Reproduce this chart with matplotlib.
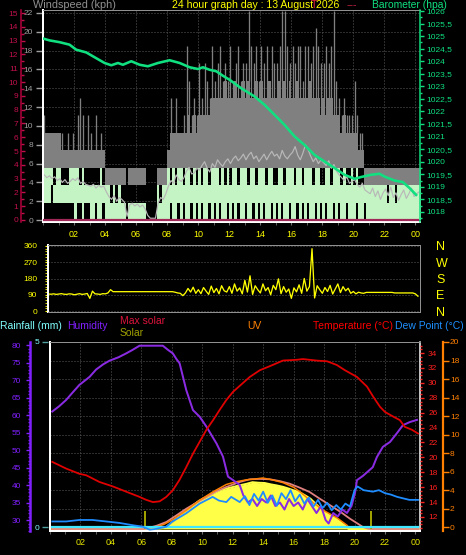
import numpy as np
import matplotlib
matplotlib.use('Agg')
import matplotlib.pyplot as plt
from matplotlib.ticker import MultipleLocator, FuncFormatter, FixedLocator

plt.rcParams['font.family'] = ['Liberation Sans', 'DejaVu Sans']

# ------------------------------------------------------------------ data
KNOT = 1.852                      # kph per knot
BIN_H = 1 / 6                     # 10-minute bins (hours)

# gusts / wind speed per 10-minute bin, in knots
gust_hi_kn = [6,5,5,5,5,5, 5,5,4,5,4,5, 4,6,7,6,4,6, 5,4,6,4,5,4,
              3,3,3,3,3,3, 3,3,0,3,3,3, 3,3,3,3,0,0, 0,0,3,3,3,3,
              4,7,5,7,5,5, 6,10,8,6,7,6, 9,7,9,8,7,10, 8,9,10,8,9,8,
              10,8,9,10,8,9, 9,12,10,9,10,8, 10,9,10,8,10,9, 9,10,12,12,10,9,
              10,9,10,10,8,10, 10,9,10,11,10,9, 9,10,9,10,12,8, 7,6,7,6,6,6,
              8,6,5,5,3,3, 3,3,3,3,3,3, 3,3,3,3,3,3, 3,3,3,3,3,3, 3,3]
gust_core_kn = [5,5,5,5,5,5, 5,4,4,4,4,4, 4,4,4,4,4,4, 4,4,4,4,4,4,
                3,3,3,3,3,3, 3,3,0,3,3,3, 3,3,3,3,0,0, 0,0,3,3,3,3,
                4,5,5,5,5,5, 5,5,6,5,6,5, 6,6,6,6,6,7, 7,7,7,7,8,7,
                7,7,8,7,7,8, 7,8,7,7,8,7, 8,7,7,8,7,7, 7,8,7,8,7,8,
                7,7,8,7,7,7, 7,8,7,7,7,6, 7,6,7,7,6,6, 6,5,6,5,5,5,
                5,5,4,4,3,3, 3,3,3,3,3,3, 3,3,3,3,3,3, 3,3,3,3,3,3, 3,3]
gust_lo_kn = [3,3,3,3,3,3, 3,3,3,3,3,3, 3,3,3,3,3,3, 3,3,3,3,3,3,
              2,2,2,2,2,2, 2,2,0,2,2,2, 2,2,2,2,0,0, 0,0,2,2,2,2,
              3,3,3,3,3,3, 3,3,3,3,3,3, 3,3,3,3,3,3, 3,3,3,3,3,3,
              3,3,3,3,3,3, 3,3,3,3,3,3, 3,3,3,3,3,3, 3,3,3,3,3,3,
              3,3,3,3,3,3, 3,3,3,3,3,3, 3,3,3,3,3,3, 3,3,3,3,3,3,
              3,3,3,3,2,2, 2,2,2,2,2,2, 2,2,2,2,2,2, 2,2,2,2,2,2, 2,2]
speed_hi_kn = [3,3,3,3,2,3, 3,2,2,2,3,3, 3,3,2,3,2,2, 2,2,2,2,3,2,
               2,2,1,2,1,2, 1,1,0,1,1,1, 1,1,1,1,0,0, 0,0,2,1,2,2,
               3,2,3,2,3,3, 2,3,3,2,3,2, 3,2,3,3,2,3, 3,3,2,3,2,3,
               2,3,3,2,3,3, 3,2,3,3,2,3, 3,3,2,3,3,2, 2,3,3,2,3,3,
               3,2,3,3,2,3, 3,3,2,3,3,2, 2,3,3,2,3,3, 3,2,3,2,2,3,
               2,3,2,2,2,2, 2,2,2,2,2,2, 2,1,2,2,1,2, 2,2,2,2,2,2, 2,2]
speed_lo_kn = [1,1,1,2,1,1, 1,1,1,1,1,1, 0,1,1,0,1,1, 0,0,1,0,0,1,
               0,0,0,0,0,0, 0,0,0,0,0,0, 0,0,0,0,0,0, 0,0,0,0,0,0,
               0,1,0,0,1,0, 1,0,0,1,0,1, 0,1,0,0,1,0, 1,0,1,0,0,1,
               0,1,0,1,0,0, 1,0,0,1,0,1, 0,1,0,0,1,0, 1,0,1,0,0,1,
               0,0,1,0,1,0, 1,0,0,1,0,1, 0,1,0,0,1,0, 1,0,0,1,0,0,
               0,1,0,0,1,0, 0,0,0,0,0,0, 0,0,0,0,0,0, 0,0,0,0,0,0, 0,0]
wind_avg_kph = [4.8,4.5,4.7,4.4,4.6,4.2, 4.4,4.0,4.3,3.9,4.1,4.4,
                4.2,4.5,3.9,4.1,3.8,3.7, 3.6,3.8,3.4,3.7,3.5,3.6,
                3.0,2.5,2.2,2.6,2.0,2.4, 2.2,1.9,0.4,1.6,1.8,1.5,
                1.7,1.4,1.6,1.2,0.5,0.2, 0.2,0.2,1.8,2.4,2.2,2.8,
                3.6,4.2,3.9,4.8,4.3,4.1, 4.5,5.2,5.6,4.9,5.0,5.5,
                5.3,5.8,6.2,5.5,5.1,6.0, 5.6,6.4,6.0,5.7,6.2,6.5,
                6.0,6.5,6.8,6.3,6.6,7.0, 6.4,6.9,7.2,6.5,6.8,6.2,
                6.6,7.0,6.4,6.9,7.3,6.8, 7.0,6.5,7.4,6.8,6.5,6.9,
                7.2,7.8,6.9,6.4,7.1,8.0, 7.5,6.8,6.2,6.6,6.0,6.4,
                6.1,5.8,6.3,5.5,5.9,5.2, 4.8,4.5,4.2,4.6,3.9,4.1,
                4.3,3.8,3.5,3.9,3.2,3.0, 2.8,3.4,2.5,3.1,2.2,2.9,
                3.3,2.6,3.5,2.4,2.9,2.1, 2.7,3.2,2.3,2.8,3.4,2.5, 2.8,3.0]
rain_rate = [0.0] * 146

baro_h = [0.03,0.42,1.06,1.71,2.14,2.79,3.21,3.97,4.4,4.83,5.15,5.69,6.23,6.76,
          7.41,8.16,8.81,9.45,9.99,10.31,10.74,11.17,11.6,12.03,12.76,13.63,
          14.27,14.92,15.56,16.21,16.85,17.5,18.14,18.79,19.43,20.08,20.5,
          21.15,21.69,22.01,22.66,23.19,23.63,24.05]
baro_hpa = [1024.90,1024.83,1024.76,1024.66,1024.46,1024.35,1024.20,1023.93,
            1023.84,1023.93,1023.86,1024.00,1023.86,1023.80,1023.93,1024.04,
            1023.93,1023.76,1023.69,1023.76,1023.66,1023.60,1023.42,1023.26,
            1022.93,1022.60,1022.27,1021.87,1021.47,1021.01,1020.67,1020.27,
            1020.01,1019.75,1019.48,1019.32,1019.39,1019.48,1019.52,1019.41,
            1019.25,1019.19,1018.95,1018.68]

wind_dir = [88,92,94,93,95,92, 94,96,93,92,95,94, 90,93,96,92,94,97,
            70,110,95,94,92,96, 95,100,118,107,107,107,
            107,107,107,107,107,107, 107,107,107,107,107,107,
            107,107,107,107,107,107, 107,107,107,104,100,98,
            85,100,125,105,132,98, 118,96,130,110,92,138,
            102,125,95,140,112,105, 135,98,150,110,128,95,
            170,105,195,92,140,118, 100,150,112,130,90,142,
            118,178,96,135,104,122, 70,128,106,145,98,180,
            110,135,345,72,140,118, 98,130,108,142,94,122,
            150,102,135,112,126,98, 108,95,104,100,98,103,
            103,103,103,103,103,103, 103,103,103,103,100,100,
            100,100,100,100,100,100, 95,82]
compass_labels = ['N', 'W', 'S', 'E', 'N']
compass_deg = [360, 270, 180, 90, 0]

temp_h = [0.15,1.06,1.93,2.38,3.25,4.13,5.0,5.88,6.32,6.76,7.2,7.64,8.07,8.51,
          8.95,9.39,9.83,10.27,10.71,11.15,11.58,12.02,12.46,13.12,13.78,14.5,
          15.3,16.2,16.6,17.5,18.2,18.84,19.37,20.16,20.82,21.21,21.67,22.0,
          22.52,22.98,23.3,23.78,24.17]
temp_c = [19.4,18.5,17.8,17.6,16.7,16.1,15.4,14.7,14.3,14.0,14.1,14.7,15.6,17.0,
          18.7,20.5,22.1,23.7,25.0,26.4,27.7,28.8,29.6,30.8,31.7,32.3,
          33.0,33.1,33.2,33.0,32.9,32.4,31.7,30.8,29.5,28.2,26.8,26.1,
          25.5,25.0,24.1,23.7,23.2]

hum_h = [0.15,0.6,1.06,1.5,1.93,2.6,3.03,3.5,3.9,4.5,5.0,5.42,5.88,7.41,7.75,
         8.07,8.3,8.51,8.95,9.39,9.83,10.27,10.93,11.36,11.69,12.02,12.46,
         12.7,13.0,13.3,13.6,13.9,14.2,14.5,14.8,15.1,15.4,15.7,16.0,16.3,
         16.6,16.9,17.2,17.5,17.8,18.1,18.3,18.6,18.9,19.2,19.5,19.8,20.03,
         20.16,20.55,21.2,21.47,21.86,22.33,22.8,23.18,23.64,24.1]
hum_pct = [61.0,62.5,64.3,66.5,68.6,70.9,73.0,74.5,75.5,76.5,77.6,78.6,79.8,79.8,
           78.6,77.6,76.0,74.8,67.1,61.4,59.5,56.7,51.9,48.1,42.4,41.4,40.0,
           37,35,36,34,36,35,37,34,35,33,36,34,35,
           33,36,34,32,34,30,29,32,31,33,32,34,37.7,
           41.4,42.6,45.1,48.0,50.9,52.3,54.9,57.1,58.0,58.6]

dew_h = [0.15,1.06,1.93,2.79,3.69,4.57,5.42,6.08,6.54,6.98,7.64,8.05,8.95,9.83,
         10.68,11.1,11.58,11.9,12.46,12.8,13.1,13.4,13.7,14.0,14.3,14.6,14.9,
         15.2,15.5,15.8,16.1,16.4,16.7,17.0,17.3,17.6,17.9,18.2,18.5,18.8,
         19.1,19.4,19.7,20.0,20.2,20.6,21.2,21.6,22.0,22.4,22.8,23.2,23.6,24.17]
dew_c = [11.4,11.4,11.6,11.6,11.4,11.2,10.9,10.7,10.3,10.4,10.7,11.4,12.5,13.8,
         14.7,14.2,14.0,14.7,14.0,14.8,13.6,15.1,14.2,15.4,13.9,14.9,13.5,
         15.2,14.4,15.6,14.1,15.0,13.8,14.6,13.4,14.3,13.2,13.9,12.9,13.6,
         13.0,13.8,13.4,15.6,16.1,15.6,15.4,15.6,15.2,15.0,14.7,14.5,14.3,14.3]

maxsol_h = [0.15,6.2,6.32,7.0,7.64,8.3,8.95,9.6,10.27,10.9,11.58,12.46,13.12,
            13.78,14.43,15.1,15.74,16.4,17.05,17.7,18.4,19.1,19.7,20.2,20.55,
            20.9,21.1,24.2]
maxsol_w = [0,0,6,60,129,250,373,480,588,690,772,864,914,
            920,914,880,833,760,680,560,436,310,189,100,37,
            5,0,0]
solar_h = [0.15,6.9,7.3,7.64,8.1,8.51,8.95,9.39,9.8,10.27,10.7,11.15,11.6,12.02,
           12.46,12.9,13.3,13.7,14.1,14.5,14.9,15.3,15.7,16.1,16.4,16.8,17.1,
           17.5,17.9,18.3,18.8,19.2,19.5,19.6,24.2]
solar_w = [0,0,15,37,140,252,340,435,520,588,650,711,745,772,
           803,830,860,850,845,820,800,775,740,700,675,610,557,
           450,343,260,189,100,37,0,0]
sun_times = [6.26, 21.08]

uv_h = [6.98,7.5,8.07,8.95,9.83,10.7,11.58,12.24,12.9,13.5,13.97,14.6,15.3,
        16.0,16.5,17.07,17.9,18.84,19.5,19.6]
uv_idx = [0,0.3,0.8,1.8,2.9,3.8,4.6,4.9,5.1,5.2,5.3,5.1,4.8,
          4.3,3.7,2.9,1.85,1.0,0.2,0]

rain_h = [0.15, 24.2]
rain_mm = [0.0, 0.0]

hour_ticks = list(range(2, 25, 2))
hour_labels = ['02', '04', '06', '08', '10', '12', '14', '16', '18', '20', '22', '00']
title_text = '24 hour graph day : 13 August 2026'

# ------------------------------------------------------------------ layout
W, H, DPI = 466, 555, 100
fig = plt.figure(figsize=(W / DPI, H / DPI), dpi=DPI, facecolor='black')


def rect(l, t, r, b):
    return [l / W, 1 - b / H, (r - l) / W, (b - t) / H]


def pt(px):
    return px * 72 / DPI


def ftext(x, y, s, **kw):
    fig.text(x / W, 1 - y / H, s, **kw)


def hide_spines(ax, keep=()):
    for k, sp in ax.spines.items():
        sp.set_visible(k in keep)


GRID = dict(color='#5a5a5a', linestyle=(0, (1, 2)), linewidth=pt(1))
YEL = '#ffff00'
XLAB = '#e8e800'

# ================================================================ top panel
ax_w = fig.add_axes(rect(43, 10, 420, 222), facecolor='black')
ax_w.set_xlim(0, 24.3)
ax_w.set_ylim(-0.2, 22.3)
ax_w.set_axisbelow(True)
ax_w.grid(True, **GRID)

n = len(gust_hi_kn)
tb = np.arange(n) * BIN_H
te = np.append(tb, n * BIN_H)


def ext(a):
    a = np.asarray(a, float) * KNOT
    return np.append(a, a[-1])


gh = np.asarray(gust_hi_kn, float)
gc = np.asarray(gust_core_kn, float)
ax_w.fill_between(te, ext(gust_lo_kn), ext(gust_core_kn), step='post',
                  color='#808080', lw=0)
m = gh > gc
ax_w.vlines(tb[m] + BIN_H / 2, gc[m] * KNOT, gh[m] * KNOT, color='#808080',
            lw=pt(1.3))
ax_w.fill_between(te, ext(speed_lo_kn), ext(speed_hi_kn), step='post',
                  color='#c4f4c4', lw=0)
ax_w.plot(tb + BIN_H / 2, wind_avg_kph, color='#b8b8b8', lw=pt(1.2))

ax_w.yaxis.set_major_locator(MultipleLocator(2))
ax_w.tick_params(axis='y', colors='#a0a0a0', labelsize=6, direction='out',
                 length=5, width=1, pad=pt(3))
ax_w.set_xticks(hour_ticks)
ax_w.set_xticklabels(hour_labels)
ax_w.xaxis.set_minor_locator(MultipleLocator(1))
ax_w.tick_params(axis='x', which='both', colors='#707070', labelcolor=YEL,
                 labelsize=6.5, length=2, pad=pt(5))
for k in ('left', 'bottom'):
    ax_w.spines[k].set_color('white')
    ax_w.spines[k].set_linewidth(pt(2))
ax_w.spines['top'].set_color('#909090')
ax_w.spines['top'].set_linewidth(pt(1))
ax_w.spines['right'].set_visible(False)

# crimson scale (far left)
ax_c = ax_w.twinx()
ax_c.set_ylim(-0.145, 15.22)
ax_c.plot(tb, rain_rate, color='#a02858', lw=pt(2.2))
hide_spines(ax_c, ('left',))
ax_c.yaxis.set_ticks_position('left')
ax_c.yaxis.set_label_position('left')
ax_c.spines['left'].set_position(('outward', pt(22)))
ax_c.spines['left'].set_color('#b4003c')
ax_c.spines['left'].set_linewidth(pt(1.5))
ax_c.yaxis.set_major_locator(MultipleLocator(1))
ax_c.yaxis.set_minor_locator(MultipleLocator(0.5))
ax_c.tick_params(axis='y', which='both', colors='#c0104c', labelsize=6,
                 direction='in', length=3, width=1, pad=pt(3))
ax_c.tick_params(axis='y', which='minor', length=2)

# barometer (right)
ax_p = ax_w.twinx()
ax_p.set_ylim(1017.6, 1026.04)
ax_p.plot(baro_h, baro_hpa, color='#10e080', lw=pt(2.6))
hide_spines(ax_p, ('right',))
ax_p.spines['right'].set_color('#10e080')
ax_p.spines['right'].set_linewidth(pt(1.5))
ax_p.yaxis.set_major_locator(MultipleLocator(0.5))
ax_p.yaxis.set_minor_locator(MultipleLocator(0.25))
ax_p.yaxis.set_major_formatter(FuncFormatter(lambda v, p: f'{v:g}'.replace('.', ',')))
ax_p.tick_params(axis='y', which='both', colors='#10e080', labelsize=6,
                 direction='out', length=3, width=1, pad=pt(2.5))
ax_p.tick_params(axis='y', which='minor', length=1.5)

ftext(33, 8, 'Windspeed (kph)', color='#909090', fontsize=7.8, va='baseline')
ftext(172, 8, title_text, color=YEL, fontsize=7.6, va='baseline')
ftext(311, 8, 'T', color='#e02040', fontsize=7.6, va='baseline')
ftext(347, 8, '---', color='#c02040', fontsize=7.6, va='baseline')
ftext(372, 8, 'Barometer (hpa)', color='#10e080', fontsize=7.4, va='baseline')

# ============================================================= middle panel
ax_m = fig.add_axes(rect(48, 245, 420, 312), facecolor='black')
ax_m.set_xlim(0.3, 24.3)
ax_m.set_ylim(-5.5, 365.5)
ax_m.set_axisbelow(True)
ax_m.grid(True, axis='y', **GRID)
ax_m.plot(tb, wind_dir, color=YEL, lw=pt(1.3))
ax_m.set_yticks([0, 90, 180, 270, 360])
ax_m.yaxis.set_minor_locator(MultipleLocator(15))
ax_m.tick_params(axis='y', which='both', colors=YEL, labelsize=6,
                 direction='out', length=2, pad=pt(8))
ax_m.set_xticks([])
ax_m.spines['left'].set_color('white')
ax_m.spines['left'].set_linewidth(pt(2))
for k in ('top', 'bottom', 'right'):
    ax_m.spines[k].set_color('#909090')
    ax_m.spines[k].set_linewidth(pt(1))

ax_m2 = ax_m.twinx()
ax_m2.set_ylim(-5.5, 365.5)
hide_spines(ax_m2)
ax_m2.yaxis.set_major_locator(FixedLocator(compass_deg))
ax_m2.set_yticklabels(compass_labels)
ax_m2.tick_params(axis='y', colors=YEL, labelsize=9, length=0, pad=pt(16))

# ============================================================= bottom panel
ax_g = fig.add_axes(rect(50, 342, 420, 531), facecolor='black')
ax_g.set_xlim(0, 24.3)
ax_g.set_ylim(-0.43, 20.0)
ax_g.set_axisbelow(True)
ax_g.set_yticks(np.arange(2, 20, 2))
ax_g.grid(True, **GRID)
ax_g.tick_params(axis='y', length=0, labelleft=False)
ax_g.set_xticks(hour_ticks)
ax_g.set_xticklabels(hour_labels)
ax_g.xaxis.set_minor_locator(MultipleLocator(1))
ax_g.tick_params(axis='x', which='both', colors='#707070', labelcolor=XLAB,
                 labelsize=6.5, length=2, pad=pt(4))
for k in ('left', 'bottom'):
    ax_g.spines[k].set_color('white')
    ax_g.spines[k].set_linewidth(pt(2))
ax_g.spines['right'].set_color('white')
ax_g.spines['right'].set_linewidth(pt(1.5))
ax_g.spines['top'].set_color('#909090')
ax_g.spines['top'].set_linewidth(pt(1))

# solar
ax_s = ax_g.twinx()
ax_s.set_ylim(-36.8, 3437)
hide_spines(ax_s)
ax_s.set_yticks([])
ax_s.fill_between(solar_h, 0, solar_w, color='#ffff48', lw=0)
ax_s.plot(solar_h, solar_w, color='#ffff48', lw=pt(2))
ax_s.plot(maxsol_h, maxsol_w, color='#e08080', lw=pt(1.8))
ax_s.vlines(sun_times, 0, 330, color='#a0a000', lw=pt(2))

# UV
ax_u = ax_g.twinx()
ax_u.set_ylim(-0.43, 20.0)
ax_u.plot(uv_h, uv_idx, color='#ff8000', lw=pt(1.5))
hide_spines(ax_u, ('right',))
ax_u.spines['right'].set_position(('outward', pt(22.5)))
ax_u.spines['right'].set_color('#ff8000')
ax_u.spines['right'].set_linewidth(pt(2.2))
ax_u.yaxis.set_major_locator(MultipleLocator(2))
ax_u.tick_params(axis='y', colors='#ff8000', labelsize=6, direction='out',
                 length=4, width=1, pad=pt(2))

# rain
ax_r = ax_g.twinx()
ax_r.set_ylim(-0.108, 5.0)
ax_r.plot(rain_h, rain_mm, color='#40e8ff', lw=pt(2.2))
hide_spines(ax_r)
ax_r.yaxis.set_ticks_position('left')
ax_r.spines['left'].set_position(('outward', pt(2)))
ax_r.set_yticks([0, 5])
ax_r.tick_params(axis='y', colors='#50a0a0', labelcolor='#80ffff', labelsize=6,
                 direction='out', length=4, width=1, pad=pt(3))

# humidity
ax_h = ax_g.twinx()
ax_h.set_ylim(26.86, 80.86)
ax_h.plot(hum_h, hum_pct, color='#8a2be2', lw=pt(2))
hide_spines(ax_h, ('left',))
ax_h.yaxis.set_ticks_position('left')
ax_h.spines['left'].set_position(('outward', pt(20)))
ax_h.spines['left'].set_color('#8020ff')
ax_h.spines['left'].set_linewidth(pt(2.5))
ax_h.yaxis.set_major_locator(MultipleLocator(5))
ax_h.yaxis.set_minor_locator(MultipleLocator(1))
ax_h.tick_params(axis='y', which='both', colors='#8020ff', labelsize=6,
                 direction='out', length=3, width=1, pad=pt(5))
ax_h.tick_params(axis='y', which='minor', length=1.5)

# temperature + dew point
ax_t = ax_g.twinx()
ax_t.set_ylim(10.12, 35.49)
ax_t.plot(temp_h, temp_c, color='#e00000', lw=pt(1.8))
ax_t.plot(dew_h, dew_c, color='#1e8cff', lw=pt(1.8))
hide_spines(ax_t)
ax_t.set_yticks(np.arange(12, 35, 2))
ax_t.yaxis.set_minor_locator(MultipleLocator(0.5))
ax_t.tick_params(axis='y', which='both', colors='#ff2020', labelsize=6,
                 direction='out', length=3, width=1, pad=pt(4))
ax_t.tick_params(axis='y', which='minor', length=1.5)

# legend row
ftext(0, 326, 'Rainfall (mm)', color='#80ffff', fontsize=7.5, va='center')
ftext(67, 326, 'Humidity', color='#8020ff', fontsize=7.5, va='center')
ftext(120, 320.5, 'Max solar', color='#dc143c', fontsize=7.5, va='center')
ftext(120, 332.5, 'Solar', color='#a0a000', fontsize=7.5, va='center')
ftext(247, 326, 'UV', color='#ff8000', fontsize=7.5, va='center')
ftext(313, 326, 'Temperature (°C)', color='#ff0000', fontsize=7.5, va='center')
ftext(395, 326, 'Dew Point (°C)', color='#1e90ff', fontsize=7.5, va='center')

fig.savefig('out.png', dpi=DPI, facecolor='black')
